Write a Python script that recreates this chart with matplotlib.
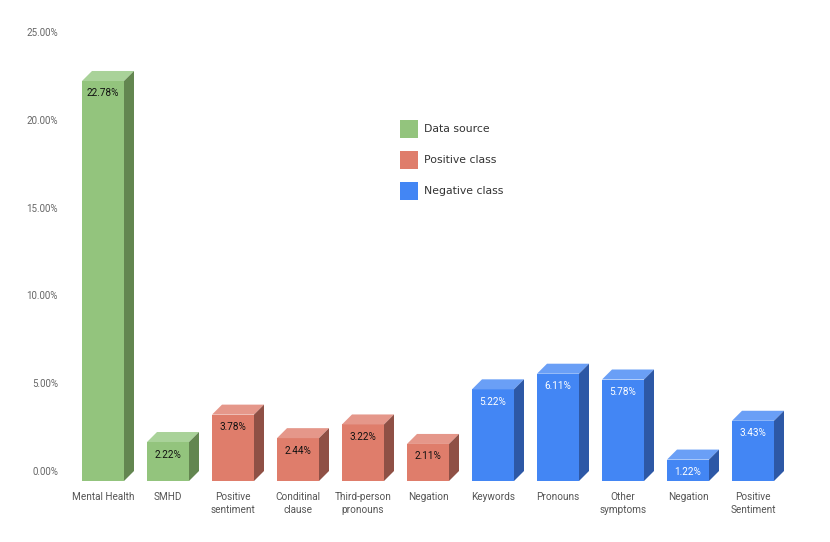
import matplotlib
matplotlib.use("Agg")
import matplotlib.pyplot as plt
from matplotlib.patches import Polygon, Rectangle

categories = ["Mental Health", "SMHD", "Positive\nsentiment", "Conditinal\nclause",
              "Third-person\npronouns", "Negation", "Keywords", "Pronouns",
              "Other\nsymptoms", "Negation", "Positive\nSentiment"]
values = [22.78, 2.22, 3.78, 2.44, 3.22, 2.11, 5.22, 6.11, 5.78, 1.22, 3.43]
groups = ["Data source", "Data source", "Positive class", "Positive class", "Positive class",
          "Positive class", "Negative class", "Negative class", "Negative class",
          "Negative class", "Negative class"]
group_names = ["Data source", "Positive class", "Negative class"]
yticks = [0, 5, 10, 15, 20, 25]

front = {"Data source": "#93C47D", "Positive class": "#DF7D6B", "Negative class": "#4386F4"}
side = {"Data source": "#638650", "Positive class": "#8F5045", "Negative class": "#2D58A6"}
top = {"Data source": "#A9D299", "Positive class": "#E5978A", "Negative class": "#6A9FF6"}
txtc = {"Data source": "#111111", "Positive class": "#111111", "Negative class": "#ffffff"}

W, H = 830, 542
fig = plt.figure(figsize=(W / 100, H / 100), dpi=100)
plt.rcParams["font.family"] = ["Roboto", "DejaVu Sans"]
ax = fig.add_axes([0, 0, 1, 1])
ax.axis("off")

px_x = 65.0          # pixels per category
x0 = 103.0           # pixel of first bar centre
px_y = 87.8 / 5      # pixels per percent
base_px = 61.0       # front baseline, pixels from bottom
ax.set_xlim(-x0 / px_x, (W - x0) / px_x)
ax.set_ylim(-base_px / px_y, (H - base_px) / px_y)

bw = 42 / px_x
ddx = 10 / px_x
ddy = 10 / px_y

xs = list(range(len(values)))
bars = ax.bar(xs, values, width=bw, color=[front[g] for g in groups], linewidth=0, zorder=3)
for x, v, g in zip(xs, values, groups):
    l, r = x - bw / 2, x + bw / 2
    ax.add_patch(Polygon([(l, v), (r, v), (r + ddx, v + ddy), (l + ddx, v + ddy)],
                         closed=True, facecolor=top[g], linewidth=0, zorder=3))
    ax.add_patch(Polygon([(r, 0), (r + ddx, ddy), (r + ddx, v + ddy), (r, v)],
                         closed=True, facecolor=side[g], linewidth=0, zorder=3))
    ax.text(x, v - 12.5 / px_y, f"{v:.2f}%", ha="center", va="center", fontsize=7.2,
            color=txtc[g], zorder=4)
    ax.text(x, -11.5 / px_y, categories[x], ha="center", va="top", fontsize=7.2,
            color="#555555", linespacing=1.3)

for t in yticks:
    ax.text((58 - x0) / px_x, t + 9 / px_y, f"{t:.2f}%", ha="right", va="center",
            fontsize=7, color="#666666")

# legend
for i, g in enumerate(group_names):
    ytop = 120 + i * 31
    fig.patches.append(Rectangle((400 / W, 1 - (ytop + 18) / H), 18 / W, 18 / H,
                                 transform=fig.transFigure, facecolor=front[g],
                                 edgecolor="none"))
    fig.text(424 / W, 1 - (ytop + 9) / H, g, ha="left", va="center", fontsize=7.8,
             color="#333333", family="DejaVu Sans")

fig.savefig("out.png", dpi=100)
